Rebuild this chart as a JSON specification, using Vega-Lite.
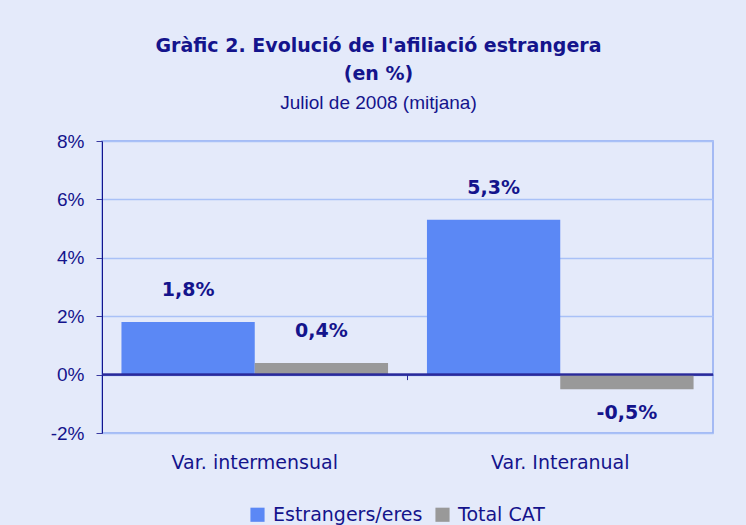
{
  "$schema": "https://vega.github.io/schema/vega-lite/v6.json",
  "width": 611,
  "height": 292,
  "autosize": {"type": "none"},
  "padding": {"left": 102, "top": 141, "right": 33, "bottom": 92},
  "background": "#E4EAFA",
  "title": {
    "text": ["Gràfic 2. Evolució de l'afiliació estrangera", "(en %)"],
    "subtitle": "Juliol de 2008 (mitjana)",
    "anchor": "middle",
    "frame": "group",
    "dx": -29,
    "offset": 19,
    "font": "DejaVu Sans",
    "fontSize": 19,
    "fontWeight": "bold",
    "color": "#14148C",
    "lineHeight": 28,
    "subtitleFont": "Liberation Sans",
    "subtitleFontSize": 19,
    "subtitleFontWeight": "normal",
    "subtitleColor": "#14148C",
    "subtitlePadding": 10
  },
  "data": {
    "values": [
      {"cat": "Var. intermensual", "serie": "Estrangers/eres", "v": 1.8, "label": "1,8%"},
      {"cat": "Var. intermensual", "serie": "Total CAT", "v": 0.4, "label": "0,4%"},
      {"cat": "Var. Interanual", "serie": "Estrangers/eres", "v": 5.3, "label": "5,3%"},
      {"cat": "Var. Interanual", "serie": "Total CAT", "v": -0.5, "label": "-0,5%"}
    ]
  },
  "layer": [
    {
      "mark": {"type": "bar"},
      "encoding": {
        "x": {
          "field": "cat", "type": "nominal", "sort": null, "title": null,
          "scale": {"paddingInner": 0, "paddingOuter": 0},
          "axis": {"orient": "bottom", "domain": false, "ticks": false, "labelAngle": 0, "labelFont": "DejaVu Sans", "labelFontSize": 19, "labelColor": "#14148C", "labelPadding": 20, "grid": false}
        },
        "xOffset": {"field": "serie", "type": "nominal", "scale": {"paddingInner": 0, "paddingOuter": 0.146}},
        "y": {
          "field": "v", "type": "quantitative", "title": null,
          "scale": {"domain": [-2, 8], "nice": false, "zero": false},
          "axis": {"values": [-2, 0, 2, 4, 6, 8], "labelExpr": "datum.value + '%'", "labelFont": "Liberation Sans", "labelFontSize": 19, "labelColor": "#14148C", "labelPadding": 12, "tickSize": 6, "tickColor": "#3a3aa0", "domainColor": "#14148C", "gridColor": "#A9C1F7", "gridWidth": 1.5}
        },
        "color": {
          "field": "serie", "type": "nominal", "sort": null, "title": null,
          "scale": {"domain": ["Estrangers/eres", "Total CAT"], "range": ["#5B88F5", "#999999"]},
          "legend": {"orient": "none", "legendX": 146, "legendY": 364, "direction": "horizontal", "symbolType": "square", "symbolSize": 200, "symbolStrokeWidth": 0, "labelFont": "DejaVu Sans", "labelFontSize": 19, "labelColor": "#14148C", "columnPadding": 10, "labelOffset": 6}
        }
      }
    },
    {
      "mark": {"type": "rule", "color": "#2A2A9A", "strokeWidth": 1.5},
      "encoding": {"y": {"datum": 0, "type": "quantitative"}}
    },
    {
      "transform": [{"filter": "datum.v >= 0"}],
      "mark": {"type": "text", "font": "DejaVu Sans", "fontSize": 19, "fontWeight": "bold", "color": "#14148C", "baseline": "middle", "dy": -32},
      "encoding": {
        "x": {
          "field": "cat", "type": "nominal", "sort": null, "title": null,
          "axis": {"orient": "bottom", "offset": -58.4, "labels": false, "title": null, "domain": true, "domainColor": "#2A2A9A", "ticks": true, "tickColor": "#2A2A9A", "tickSize": 5, "bandPosition": 0, "grid": false}
        },
        "xOffset": {"field": "serie", "type": "nominal"},
        "y": {"field": "v", "type": "quantitative"},
        "text": {"field": "label"}
      }
    },
    {
      "transform": [{"filter": "datum.v < 0"}],
      "mark": {"type": "text", "font": "DejaVu Sans", "fontSize": 19, "fontWeight": "bold", "color": "#14148C", "baseline": "middle", "dy": 24},
      "encoding": {
        "x": {"field": "cat", "type": "nominal", "sort": null, "axis": null},
        "xOffset": {"field": "serie", "type": "nominal"},
        "y": {"field": "v", "type": "quantitative"},
        "text": {"field": "label"}
      }
    }
  ],
  "resolve": {"axis": {"x": "independent"}},
  "config": {
    "view": {"stroke": "#8FAAF2", "strokeWidth": 1.5},
    "axis": {"gridColor": "#A9C1F7"}
  }
}
